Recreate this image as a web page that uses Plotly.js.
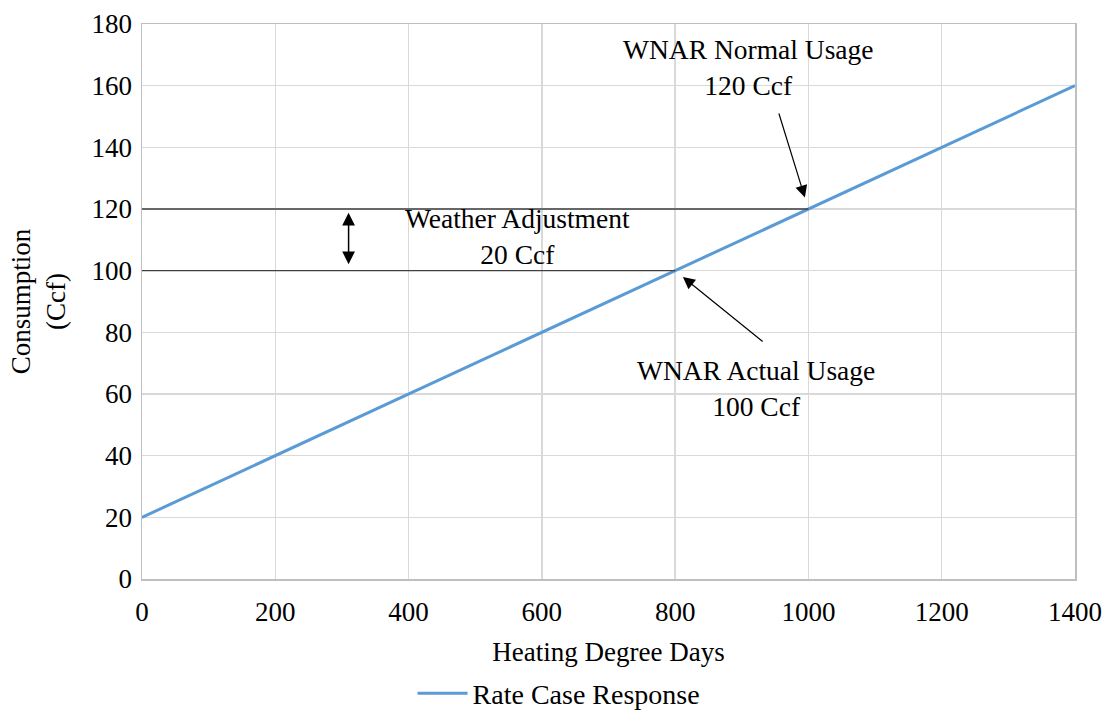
<!DOCTYPE html>
<html>
<head>
<meta charset="utf-8">
<script src="https://cdn.plot.ly/plotly-3.0.1.min.js"></script>
<style>html,body{margin:0;padding:0;background:#fff;}#chart{width:1106px;height:715px;}</style>
</head>
<body>
<div id="chart"></div>
<script>
// Data
var hdd = [0, 200, 400, 600, 800, 1000, 1200, 1400];
var consumption = [20, 40, 60, 80, 100, 120, 140, 160];
var normalPoint = {x: 1000, y: 120};
var actualPoint = {x: 800, y: 100};
var adjustmentX = 310;
var xTicks = [0, 200, 400, 600, 800, 1000, 1200, 1400];
var yTicks = [0, 20, 40, 60, 80, 100, 120, 140, 160, 180];

var font = '"Liberation Serif", "Times New Roman", serif';

var traces = [
  {x: hdd, y: consumption, mode: 'lines', name: 'Rate Case Response',
   line: {color: '#5B9BD5', width: 3}},
  {x: [0, normalPoint.x], y: [normalPoint.y, normalPoint.y], mode: 'lines',
   line: {color: '#404040', width: 1.3}, showlegend: false, hoverinfo: 'skip'},
  {x: [0, actualPoint.x], y: [actualPoint.y, actualPoint.y], mode: 'lines',
   line: {color: '#404040', width: 1.3}, showlegend: false, hoverinfo: 'skip'}
];

var layout = {
  width: 1106, height: 715,
  margin: {l: 142, r: 31, t: 24, b: 136},
  paper_bgcolor: '#fff', plot_bgcolor: '#fff',
  font: {family: font, size: 27, color: '#000'},
  showlegend: true,
  legend: {orientation: 'h', x: 0.29, xanchor: 'left', yref: 'container', y: 0.03, yanchor: 'middle',
           itemwidth: 50,
           font: {family: font, size: 28, color: '#000'}},
  xaxis: {range: [0, 1400], tickvals: xTicks, ticktext: xTicks.map(String),
          showgrid: true, gridcolor: '#d9d9d9', gridwidth: 1.5,
          showline: true, linecolor: '#bfbfbf', linewidth: 1.5, mirror: true,
          zeroline: false, ticks: '', ticklen: 0, automargin: false, ticklabelstandoff: 8,
          tickfont: {family: font, size: 27, color: '#000'},
          title: {text: 'Heating Degree Days', font: {family: font, size: 27, color: '#000'}, standoff: 16}},
  yaxis: {range: [0, 180], tickvals: yTicks, ticktext: yTicks.map(String),
          showgrid: true, gridcolor: '#d9d9d9', gridwidth: 1.5,
          showline: true, linecolor: '#bfbfbf', linewidth: 1.5, mirror: true,
          zeroline: false, ticks: '', ticklen: 0, automargin: false, ticklabelstandoff: 3,
          tickfont: {family: font, size: 27, color: '#000'},
          title: {text: 'Consumption<br>(Ccf)', font: {family: font, size: 27, color: '#000'}, standoff: 18}},
  annotations: [
    {x: normalPoint.x, y: normalPoint.y, xref: 'x', yref: 'y',
     text: '', showarrow: true, arrowhead: 2, arrowsize: 2, arrowwidth: 1.2, arrowcolor: '#000',
     ax: -30, ay: -97, standoff: 12},
    {x: 0.65, y: 0.985, xref: 'paper', yref: 'paper', xanchor: 'center', yanchor: 'top',
     text: 'WNAR Normal Usage<br>120 Ccf', showarrow: false, align: 'center',
     font: {family: font, size: 27.5, color: '#000'}},
    {x: actualPoint.x, y: actualPoint.y, xref: 'x', yref: 'y',
     text: '', showarrow: true, arrowhead: 2, arrowsize: 2, arrowwidth: 1.2, arrowcolor: '#000',
     ax: 89, ay: 72, standoff: 10},
    {x: 0.658, y: 0.408, xref: 'paper', yref: 'paper', xanchor: 'center', yanchor: 'top',
     text: 'WNAR Actual Usage<br>100 Ccf', showarrow: false, align: 'center',
     font: {family: font, size: 27.5, color: '#000'}},
    {x: adjustmentX, y: normalPoint.y - 1.2, xref: 'x', yref: 'y',
     ax: adjustmentX, ay: actualPoint.y + 1.6, axref: 'x', ayref: 'y',
     text: '', showarrow: true, arrowhead: 2, arrowside: 'end+start', arrowsize: 1.7, arrowwidth: 1.5, arrowcolor: '#000'},
    {x: 0.402, y: 0.618, xref: 'paper', yref: 'paper', xanchor: 'center', yanchor: 'middle',
     text: 'Weather Adjustment<br>20 Ccf', showarrow: false, align: 'center',
     font: {family: font, size: 27.5, color: '#000'}}
  ]
};

Plotly.newPlot('chart', traces, layout, {displayModeBar: false, staticPlot: true});
</script>
</body>
</html>
